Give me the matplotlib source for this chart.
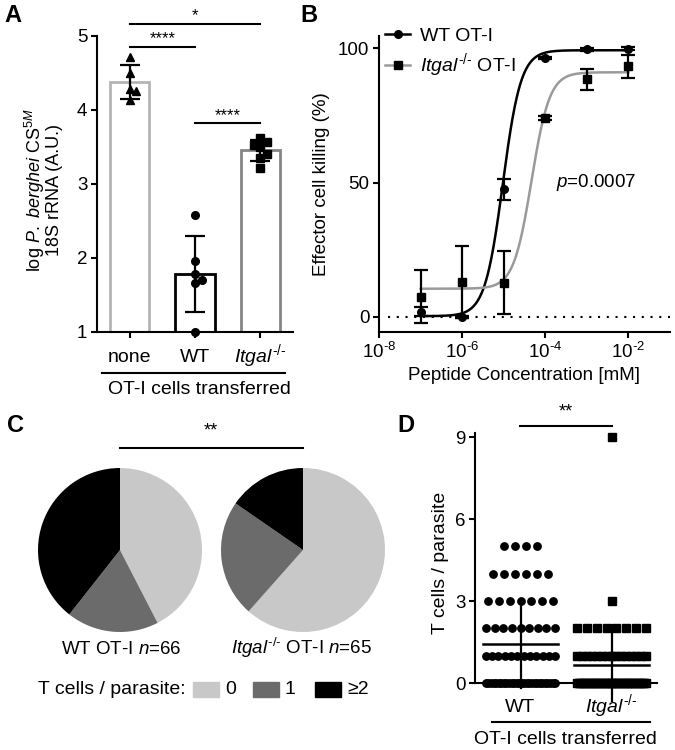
import matplotlib
matplotlib.use("Agg")
import matplotlib.pyplot as plt
import numpy as np
from matplotlib.lines import Line2D
from matplotlib.patches import Rectangle

plt.rcParams['font.family'] = ['Liberation Sans', 'DejaVu Sans']
plt.rcParams['mathtext.fontset'] = 'custom'
plt.rcParams['mathtext.rm'] = 'Liberation Sans'
plt.rcParams['mathtext.it'] = 'Liberation Sans:italic'
plt.rcParams['mathtext.bf'] = 'Liberation Sans:bold'

ITGAL = '$\\mathit{Itgal}^{\u2010/\u2010}$'

# ---------------- data ----------------
# Panel A: log P. berghei 18S rRNA
a_groups = ['none', 'WT', ITGAL]
a_none = [4.72, 4.50, 4.28, 4.26, 4.13]
a_wt = [2.58, 1.96, 1.79, 1.70, 1.66, 1.00]
a_itgal = [3.62, 3.57, 3.53, 3.50, 3.41, 3.35, 3.21]

# Panel B: killing curves
b_conc = [1e-7, 1e-6, 1e-5, 1e-4, 1e-3, 1e-2]
b_wt = [2.0, 0.0, 47.5, 96.3, 99.6, 99.8]
b_wt_err = [1.8, 0.4, 3.9, 0.5, 0.5, 0.5]
b_itgal = [7.5, 13.0, 12.8, 73.9, 88.4, 93.2]
b_itgal_err = [9.9, 13.5, 11.7, 0.8, 4.0, 4.4]
# 4-parameter logistic fit: bottom, top, logEC50, hill
b_wt_fit = [0.3, 99.2, -5.02, 2.0]
b_itgal_fit = [10.5, 91.0, -4.33, 2.0]
b_xticks = [1e-8, 1e-6, 1e-4, 1e-2]
b_xticklabels = ['10$^{\u20108}$', '10$^{\u20106}$', '10$^{\u20104}$', '10$^{\u20102}$']

# Panel C: T cells / parasite categories
c_categories = ['0', '1', '≥2']
c_wt = [28, 12, 26]
c_itgal = [40, 15, 10]

# Panel D: T cells per parasite
d_wt_values = [0, 1, 2, 3, 4, 5]
d_wt_counts = [28, 12, 9, 7, 6, 4]
d_itgal_values = [0, 1, 2, 3, 9]
d_itgal_counts = [40, 15, 8, 1, 1]

# ---------------- layout helpers ----------------
W, H = 675, 750
fig = plt.figure(figsize=(6.75, 7.5), dpi=100)


def rect(l, t, r, b):
    return [l / W, 1 - b / H, (r - l) / W, (b - t) / H]


def P(x, y):
    return (x / W, 1 - y / H)


def ftext(x, y, s, **kw):
    fig.text(x / W, 1 - y / H, s, **kw)


def fline(x0, x1, y, lw=1.5):
    fig.add_artist(Line2D([x0 / W, x1 / W], [1 - y / H, 1 - y / H], color='black', lw=lw))


LIGHT = '#c8c8c8'
DARK = '#6b6b6b'
TICK = 13.5
LW = 1.5


def style_axes(ax):
    for s in ['top', 'right']:
        ax.spines[s].set_visible(False)
    for s in ['left', 'bottom']:
        ax.spines[s].set_linewidth(LW)
    ax.tick_params(direction='out', length=4, width=LW, labelsize=TICK, pad=3)


def baseline_xlabels(ax, labels, pad):
    ax.set_xticklabels(labels, fontsize=14)
    ax.tick_params(axis='x', pad=pad)
    for t in ax.get_xticklabels():
        t.set_verticalalignment('baseline')


def swarm(vals, xc, dy_unit, dx, diam):
    """simple deterministic swarm: place points avoiding overlap"""
    placed = []
    xs = []
    for v in vals:
        k = 0
        cands = [0]
        for i in range(1, 10):
            cands += [i, -i]
        for c in cands:
            ok = True
            for (px, pv) in placed:
                if abs(px - c) < 1 and abs(pv - v) * dy_unit < diam:
                    ok = False
                    break
            if ok:
                k = c
                break
        placed.append((k, v))
        xs.append(xc + k * dx)
    return xs


# ---------------- Panel A ----------------
axA = fig.add_axes(rect(97, 36, 293, 332))
style_axes(axA)
a_sets = [a_none, a_wt, a_itgal]
a_edges = ['#b4b4b4', 'black', '#858585']
a_markers = ['^', 'o', 's']
xA = np.arange(3)
means = [np.mean(v) for v in a_sets]
sds = [np.std(v, ddof=1) for v in a_sets]
axA.bar(xA, means, width=0.6, color='white', edgecolor=a_edges, linewidth=2.0, zorder=1)
for i, vals in enumerate(a_sets):
    xs = swarm(vals, xA[i], 74.0, 0.1, 7.5)
    axA.plot(xs, vals, ls='none', marker=a_markers[i], color='black', ms=5.5, zorder=3, clip_on=False)
    axA.errorbar(xA[i], means[i], yerr=sds[i], color='black', capsize=7, elinewidth=1.6,
                 capthick=1.6, zorder=4)
axA.set_xlim(-0.5, 2.5)
axA.set_ylim(1, 5)
axA.set_yticks([1, 2, 3, 4, 5])
axA.set_xticks(xA)
baseline_xlabels(axA, a_groups, 17.5)
# significance
for (x0, x1, y, s, ty) in [(0, 2, 5.16, '*', 5.27), (0, 1, 4.85, '****', 4.96), (1, 2, 3.82, '****', 3.93)]:
    axA.plot([x0, x1], [y, y], color='black', lw=LW, clip_on=False)
    axA.text((x0 + x1) / 2, ty, s, ha='center', va='center', fontsize=12)
ftext(43, 190, 'log $\\mathit{P.\\ berghei}$ CS$^{5M}$\n18S rRNA (A.U.)', rotation=90,
      ha='center', va='center', fontsize=13, linespacing=0.95, multialignment='center')
fline(102, 285, 373)
ftext(199, 389, 'OT-I cells transferred', ha='center', va='center', fontsize=14)
ftext(13, 15, 'A', ha='center', va='center', fontsize=17, fontweight='bold')

# ---------------- Panel B ----------------
axB = fig.add_axes(rect(379, 36, 670, 332))
style_axes(axB)
axB.set_xscale('log')
axB.set_xlim(1e-8, 1e-1)
axB.set_ylim(-5.6, 104.5)
axB.set_yticks([0, 50, 100])
axB.set_xticks(b_xticks)
axB.set_xticklabels(b_xticklabels)
axB.xaxis.set_minor_locator(matplotlib.ticker.NullLocator())
axB.axhline(0, xmin=0.03, color='black', lw=1.5, dashes=(1, 3.2), zorder=0)
xx = np.logspace(-7, -2, 400)
for fit, col in [(b_wt_fit, 'black'), (b_itgal_fit, '#9a9a9a')]:
    bot, top, lec, h = fit
    yy = bot + (top - bot) / (1 + 10 ** ((lec - np.log10(xx)) * h))
    axB.plot(xx, yy, color=col, lw=1.8, zorder=2)
axB.errorbar(b_conc, b_itgal, yerr=b_itgal_err, fmt='s', color='black', ms=5.5, capsize=5,
             elinewidth=1.6, capthick=1.6, zorder=3, clip_on=False)
axB.errorbar(b_conc, b_wt, yerr=b_wt_err, fmt='o', color='black', ms=5.5, capsize=5,
             elinewidth=1.6, capthick=1.6, zorder=4, clip_on=False)
axB.set_xlabel('Peptide Concentration [mM]', fontsize=13.5, labelpad=4)
axB.set_ylabel('Effector cell killing (%)', fontsize=13.5, labelpad=6)
axB.text(10 ** -3.75, 50, r'$\mathit{p}$=0.0007', fontsize=13.5, ha='left', va='center')
handles = [Line2D([], [], color='black', marker='o', ms=5.5, lw=1.8),
           Line2D([], [], color='#9a9a9a', marker='s', ms=5.5, lw=1.8, mfc='black', mec='black')]
axB.legend(handles, ['WT OT-I', ITGAL + ' OT-I'], loc='upper left',
           bbox_to_anchor=P(385, 27), bbox_transform=fig.transFigure, frameon=False,
           fontsize=14, handlelength=1.3, handletextpad=0.5, labelspacing=0.35, borderpad=0,
           borderaxespad=0)
ftext(309, 15, 'B', ha='center', va='center', fontsize=17, fontweight='bold')

# ---------------- Panel C ----------------
pie_colors = [LIGHT, DARK, 'black']
for cx, counts in [(120, c_wt), (303, c_itgal)]:
    axc = fig.add_axes(rect(cx - 100, 550 - 100, cx + 100, 550 + 100))
    axc.pie(counts, colors=pie_colors, startangle=90, counterclock=False, radius=0.82,
            wedgeprops=dict(linewidth=0))
    axc.set_xlim(-1, 1)
    axc.set_ylim(-1, 1)
    axc.set_axis_off()
ftext(121, 654, r'WT OT-I $\mathit{n}$=%d' % sum(c_wt), ha='center', va='baseline', fontsize=13.5)
ftext(302, 654, ITGAL + r' OT-I $\mathit{n}$=%d' % sum(c_itgal), ha='center',
      va='baseline', fontsize=13.5)
ftext(38, 690, 'T cells / parasite:', ha='left', va='center', fontsize=14)
for (x0, col, lab) in [(193, LIGHT, c_categories[0]), (253, DARK, c_categories[1]),
                       (315, 'black', c_categories[2])]:
    fig.add_artist(Rectangle(P(x0, 697), 26 / W, 15 / H, color=col, transform=fig.transFigure))
    ftext(x0 + 32, 690, lab, ha='left', va='center', fontsize=14)
fline(120, 303, 448)
ftext(211, 431, '**', ha='center', va='center', fontsize=13)
ftext(15, 425, 'C', ha='center', va='center', fontsize=17, fontweight='bold')

# ---------------- Panel D ----------------
axD = fig.add_axes(rect(475, 432.9, 657, 692.6))
style_axes(axD)
axD.set_xlim(-0.5, 1.5)
axD.set_ylim(-0.35, 9.15)
axD.spines['bottom'].set_position(('data', 0))
axD.spines['left'].set_bounds(0, 9.15)
axD.set_yticks([0, 3, 6, 9])
axD.set_xticks([0, 1])
baseline_xlabels(axD, ['WT', ITGAL], 17)
for xc, vals, cnts, mk in [(0, d_wt_values, d_wt_counts, 'o'), (1, d_itgal_values, d_itgal_counts, 's')]:
    allv = np.repeat(vals, cnts)
    for v, n in zip(vals, cnts):
        step = min(0.12, 0.76 / max(n - 1, 1))
        offs = (np.arange(n) - (n - 1) / 2) * step
        axD.plot(xc + offs, np.full(n, v), ls='none', marker=mk, color='black', ms=5.3,
                 clip_on=False, zorder=3)
    m = allv.mean()
    sd = allv.std(ddof=1)
    axD.plot([xc - 0.41, xc + 0.41], [m, m], color='black', lw=1.8, zorder=4)
    axD.plot([xc, xc], [m - sd, m + sd], color='black', lw=1.6, zorder=4, clip_on=False)
axD.set_ylabel('T cells / parasite', fontsize=14, labelpad=4)
fline(492, 650, 722)
ftext(565, 739, 'OT-I cells transferred', ha='center', va='center', fontsize=14)
fline(520, 612, 426)
ftext(566, 412, '**', ha='center', va='center', fontsize=13)
ftext(406, 426, 'D', ha='center', va='center', fontsize=17, fontweight='bold')

fig.savefig('out.png', dpi=100)
